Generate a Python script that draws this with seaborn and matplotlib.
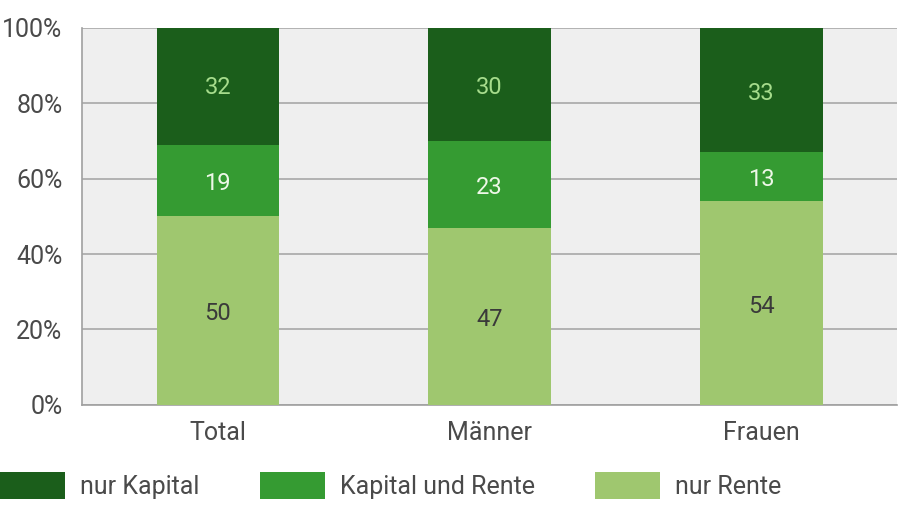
import pandas as pd
import matplotlib.pyplot as plt
import seaborn as sns
from matplotlib.patches import Patch

# Data
groups = ["Total", "Männer", "Frauen"]
nur_rente = [50, 47, 54]
kapital_und_rente = [19, 23, 13]
nur_kapital = [32, 30, 33]

series_names = ["nur Kapital", "Kapital und Rente", "nur Rente"]
colors = {"nur Kapital": "#1b5e1b", "Kapital und Rente": "#359b32", "nur Rente": "#9fc76f"}
text_colors = {"nur Kapital": "#a6dc8c", "Kapital und Rente": "#eef8e8", "nur Rente": "#3a3a3a"}

sns.set_style("white")
plt.rcParams["font.family"] = ["Roboto", "DejaVu Sans"]

df = pd.DataFrame({
    "group": groups,
    "nur Rente": nur_rente,
    "Kapital und Rente": kapital_und_rente,
    "nur Kapital": nur_kapital,
})
df["cum_rente"] = df["nur Rente"]
df["cum_mid"] = df["cum_rente"] + df["Kapital und Rente"]
df["cum_top"] = df["cum_mid"] + df["nur Kapital"]

fig = plt.figure(figsize=(9, 5.17), dpi=100)
ax = fig.add_axes([0.091, 0.217, 0.906, 0.729])
ax.set_facecolor("#efefef")

# stacked bars drawn as cumulative totals, tallest first
for col, name in [("cum_top", "nur Kapital"), ("cum_mid", "Kapital und Rente"), ("cum_rente", "nur Rente")]:
    sns.barplot(data=df, x="group", y=col, color=colors[name], width=0.45,
                saturation=1, linewidth=0, ax=ax, zorder=3)

# segment labels
for i in range(len(groups)):
    lows = [0, df["cum_rente"][i], df["cum_mid"][i]]
    vals = [nur_rente[i], kapital_und_rente[i], nur_kapital[i]]
    names = ["nur Rente", "Kapital und Rente", "nur Kapital"]
    for lo, v, n in zip(lows, vals, names):
        ax.text(i, lo + v / 2 - 0.8, str(v), ha="center", va="center",
                fontsize=17, color=text_colors[n], zorder=4)

ax.set_ylim(0, 100)
ax.set_xlim(-0.5, 2.5)
ax.set_yticks([0, 20, 40, 60, 80, 100])
ax.set_yticklabels([f"{t}%" for t in [0, 20, 40, 60, 80, 100]])
ax.yaxis.grid(True, color="#a8a8a8", linewidth=1.2, zorder=1)
ax.set_axisbelow(True)
ax.set_xlabel("")
ax.set_ylabel("")

for s in ["top", "right"]:
    ax.spines[s].set_visible(False)
for s in ["left", "bottom"]:
    ax.spines[s].set_color("#a0a0a0")
    ax.spines[s].set_linewidth(1.2)

ax.tick_params(axis="y", length=8, width=1.2, color="#a0a0a0", labelsize=18,
               labelcolor="#4a4a4a", pad=6)
ax.tick_params(axis="x", length=0, labelsize=18, labelcolor="#4a4a4a", pad=12)

handles = [Patch(facecolor=colors[n], edgecolor="none", label=n) for n in series_names]
leg = fig.legend(handles=handles, loc="lower left", bbox_to_anchor=(0.0, 0.035),
                 ncol=3, frameon=False, fontsize=18, handlelength=2.6,
                 handleheight=1.3, handletextpad=0.6, columnspacing=2.42,
                 borderpad=0, borderaxespad=0)
for t in leg.get_texts():
    t.set_color("#4a4a4a")

fig.savefig("out.png", dpi=100)
